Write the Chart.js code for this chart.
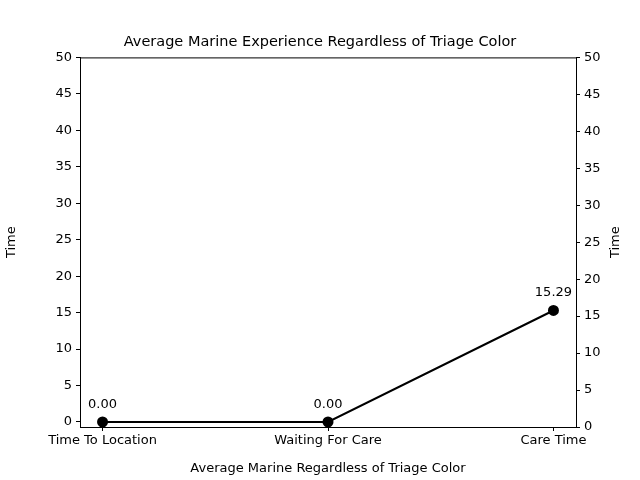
<!DOCTYPE html>
<html><head><script src="https://cdn.jsdelivr.net/npm/chart.js"></script>
<style>body{margin:0;background:#fff}</style></head>
<body><div style="width:640px;height:480px"><canvas id="c"></canvas></div>
<script>
const categories=["Time To Location","Waiting For Care","Care Time"];
const values=[0.00,0.00,15.29];
const yTicks=[0,5,10,15,20,25,30,35,40,45,50];
Chart.defaults.font.family="DejaVu Sans";
Chart.defaults.font.size=13;
Chart.defaults.color="#000";
const labelPlugin={id:'lbl',afterDatasetsDraw(ch){
 const ctx=ch.ctx;const m=ch.getDatasetMeta(0);const a=ch.chartArea;
 ctx.save();ctx.font="13px DejaVu Sans";ctx.fillStyle="#000";ctx.textAlign="center";ctx.textBaseline="bottom";
 m.data.forEach((p,i)=>ctx.fillText(values[i].toFixed(2),p.x,p.y-11));
 ctx.strokeStyle="#000";ctx.lineWidth=1;ctx.strokeRect(a.left+0.5,a.top+0.5,a.right-a.left,a.bottom-a.top);
 ctx.translate(616,(a.top+a.bottom)/2);ctx.rotate(-Math.PI/2);ctx.textBaseline="middle";ctx.fillText("Time",0,0);
 ctx.restore();}};
const tk={display:true,drawOnChartArea:false,tickLength:4,color:'#000'};
new Chart(document.getElementById('c'),{type:'scatter',
data:{datasets:[{data:values.map((v,i)=>({x:i,y:v})),showLine:true,borderColor:'#000',backgroundColor:'#000',borderWidth:2,pointRadius:4.5,yAxisID:'y'}]},
options:{responsive:true,maintainAspectRatio:false,animation:false,
layout:{padding:0},
plugins:{legend:{display:false},tooltip:{enabled:false},
 title:{display:true,text:"Average Marine Experience Regardless of Triage Color",font:{size:14.5,weight:'normal'},padding:{top:34,bottom:6}}},
scales:{
 x:{type:'linear',min:-0.1,max:2.1,grid:tk,border:{color:'#000'},
  afterFit(s){s.height=53;},
  afterBuildTicks(a){a.ticks=[0,1,2].map(v=>({value:v}));},
  ticks:{callback:v=>categories[v]??'',autoSkip:false,maxRotation:0,padding:2},
  title:{display:true,text:"Average Marine Regardless of Triage Color",padding:{top:2}}},
 y:{position:'left',min:-0.69,max:50,grid:tk,border:{color:'#000'},
  afterFit(s){s.width=80;},
  afterBuildTicks(a){a.ticks=yTicks.map(v=>({value:v}));},
  ticks:{padding:4},
  title:{display:true,text:"Time",padding:{bottom:4}}},
 y2:{position:'right',min:0,max:50,grid:tk,border:{color:'#000'},
  afterFit(s){s.width=64;},
  afterBuildTicks(a){a.ticks=yTicks.map(v=>({value:v}));},
  ticks:{padding:4}}
}},plugins:[labelPlugin]});
</script></body></html>
